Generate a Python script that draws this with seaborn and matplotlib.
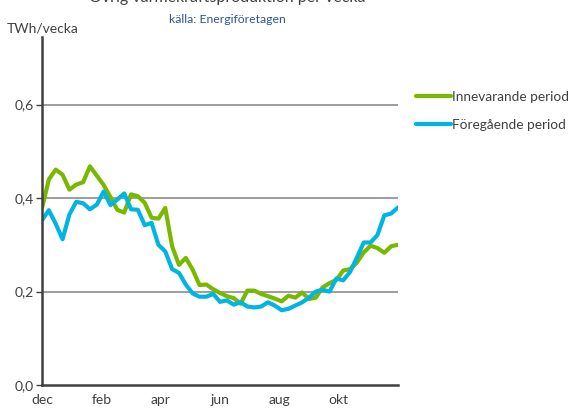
import numpy as np
import pandas as pd
import matplotlib
matplotlib.use("Agg")
import matplotlib.pyplot as plt
from matplotlib.ticker import FuncFormatter
import seaborn as sns

# weekly values, TWh/vecka
innevarande = [0.379, 0.44, 0.461, 0.45, 0.418, 0.429, 0.434, 0.468, 0.448, 0.428,
               0.402, 0.375, 0.369, 0.408, 0.404, 0.39, 0.358, 0.356, 0.379, 0.297,
               0.257, 0.272, 0.247, 0.214, 0.215, 0.205, 0.197, 0.19, 0.186, 0.174,
               0.202, 0.202, 0.195, 0.19, 0.185, 0.179, 0.191, 0.187, 0.198, 0.184,
               0.187, 0.209, 0.218, 0.225, 0.245, 0.248, 0.262, 0.284, 0.298, 0.293,
               0.283, 0.297, 0.30]
foregaende = [0.353, 0.374, 0.345, 0.312, 0.365, 0.392, 0.389, 0.376, 0.386, 0.414,
              0.385, 0.397, 0.41, 0.376, 0.375, 0.342, 0.347, 0.30, 0.286, 0.248,
              0.24, 0.215, 0.196, 0.189, 0.189, 0.195, 0.178, 0.181, 0.172, 0.177,
              0.168, 0.166, 0.168, 0.177, 0.17, 0.16, 0.163, 0.17, 0.177, 0.187,
              0.2, 0.204, 0.2, 0.228, 0.224, 0.242, 0.273, 0.305, 0.305, 0.321,
              0.363, 0.367, 0.38]
months = ['dec', 'feb', 'apr', 'jun', 'aug', 'okt']
series_names = ['Innevarande period', 'Föregående period']

weeks = np.arange(len(innevarande))
df = pd.DataFrame({
    'vecka': np.concatenate([weeks, weeks]),
    'TWh': innevarande + foregaende,
    'period': [series_names[0]] * len(weeks) + [series_names[1]] * len(weeks),
})

sns.set_style("white")
plt.rcParams['font.family'] = ['Lato', 'DejaVu Sans']

fig = plt.figure(figsize=(5.68, 4.12), dpi=100)
ax = fig.add_axes([0.074, 0.0655, 0.6267, 0.845])

sns.lineplot(data=df, x='vecka', y='TWh', hue='period',
             palette={series_names[0]: '#7ab800', series_names[1]: '#00b5e2'},
             linewidth=3, ax=ax, legend=True)

ax.set_xlim(0, len(weeks) - 1)
ax.set_ylim(0, 0.745)
ax.set_yticks([0, 0.2, 0.4, 0.6])
ax.yaxis.set_major_formatter(FuncFormatter(lambda v, p: f"{v:.1f}".replace('.', ',')))
ax.set_xticks(np.arange(len(months)) * (len(weeks) - 1) / 6)
ax.set_xticklabels(months)
ax.set_xlabel('')
ax.set_ylabel('')

for y in [0.2, 0.4, 0.6]:
    ax.axhline(y, color='#8c8c8c', linewidth=1.2, zorder=0)

for s in ['top', 'right']:
    ax.spines[s].set_visible(False)
for s in ['left', 'bottom']:
    ax.spines[s].set_color('#404040')
    ax.spines[s].set_linewidth(1.8)

ax.tick_params(axis='y', left=True, length=4, width=1, color='#404040',
               labelsize=10, labelcolor='#404040', pad=2)
ax.tick_params(axis='x', bottom=False, labelsize=10, labelcolor='#404040', pad=3)

handles, labels = ax.get_legend_handles_labels()
ax.legend(handles, labels, loc='upper left', bbox_to_anchor=(0.71, 0.81),
          bbox_transform=fig.transFigure, frameon=False, fontsize=9.8,
          handlelength=2.6, handletextpad=0.05, labelspacing=1.2,
          labelcolor='#404040')

fig.text(0.012, 0.92, 'TWh/vecka', fontsize=10, color='#404040')
fig.text(0.40, 0.943, 'källa: Energiföretagen', fontsize=8.8, color='#2f5597', ha='center')
fig.text(0.40, 0.988, 'Övrig värmekraftsproduktion per vecka', fontsize=11.5,
         color='#404040', ha='center', va='bottom')

fig.savefig('out.png', dpi=100)
